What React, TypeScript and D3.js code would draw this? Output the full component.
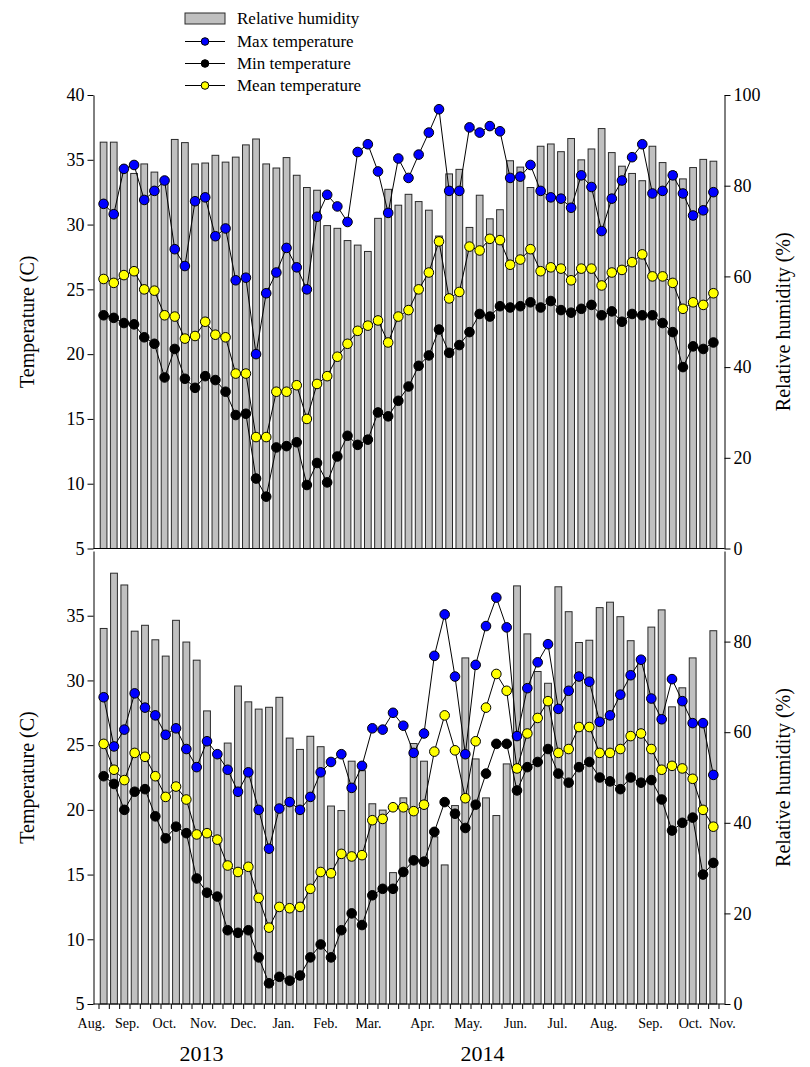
import React, { useEffect, useRef } from "react";
import * as d3 from "d3";

// upper panel, weekly values (61 weeks)
const topHumidity = [89.6, 89.6, 83.4, 82.7, 84.8, 83.0, 81.6, 90.2, 89.5, 84.8, 85.0, 86.7, 85.2, 86.3, 89.0, 90.3, 84.8, 83.9, 86.2, 82.3, 79.6, 79.0, 71.2, 70.6, 67.9, 66.9, 65.5, 72.8, 79.2, 75.7, 78.1, 76.5, 74.6, 68.9, 82.6, 83.6, 70.8, 77.9, 72.7, 74.7, 85.5, 84.1, 79.6, 88.7, 89.2, 87.5, 90.4, 85.7, 88.1, 92.6, 87.3, 84.3, 82.7, 81.1, 88.7, 85.1, 83.1, 81.5, 84.0, 85.8, 85.4];
const topMax = [31.6, 30.8, 34.3, 34.6, 31.9, 32.6, 33.4, 28.1, 26.8, 31.8, 32.1, 29.1, 29.7, 25.7, 25.9, 20.0, 24.7, 26.3, 28.2, 26.7, 25.0, 30.6, 32.3, 31.4, 30.2, 35.6, 36.2, 34.1, 30.9, 35.1, 33.6, 35.4, 37.1, 38.9, 32.6, 32.6, 37.5, 37.1, 37.6, 37.2, 33.6, 33.7, 34.6, 32.6, 32.1, 32.0, 31.3, 33.8, 32.9, 29.5, 32.0, 33.4, 35.2, 36.2, 32.4, 32.6, 33.8, 32.4, 30.7, 31.1, 32.5];
const topMin = [23.0, 22.8, 22.4, 22.3, 21.3, 20.8, 18.2, 20.4, 18.1, 17.4, 18.3, 18.0, 17.1, 15.3, 15.4, 10.4, 9.0, 12.8, 12.9, 13.2, 9.9, 11.6, 10.1, 12.1, 13.7, 13.0, 13.4, 15.5, 15.2, 16.4, 17.5, 19.1, 19.9, 21.9, 20.1, 20.7, 21.7, 23.1, 22.9, 23.7, 23.6, 23.7, 24.0, 23.6, 24.1, 23.4, 23.2, 23.5, 23.8, 23.0, 23.3, 22.5, 23.1, 23.0, 23.0, 22.4, 21.7, 19.0, 20.6, 20.4, 20.9];
const topMean = [25.8, 25.5, 26.1, 26.4, 25.0, 24.9, 23.0, 22.9, 21.2, 21.4, 22.5, 21.5, 21.3, 18.5, 18.5, 13.6, 13.6, 17.1, 17.1, 17.6, 15.0, 17.7, 18.3, 19.8, 20.8, 21.8, 22.2, 22.6, 20.9, 22.9, 23.4, 25.0, 26.3, 28.7, 24.3, 24.8, 28.3, 28.0, 28.9, 28.8, 26.9, 27.3, 28.1, 26.4, 26.7, 26.6, 25.7, 26.6, 26.6, 25.3, 26.3, 26.5, 27.1, 27.7, 26.0, 26.0, 25.5, 23.5, 24.0, 23.8, 24.7];

// lower panel, weekly values (60 weeks)
const botHumidity = [82.9, 95.1, 92.5, 82.3, 83.6, 80.4, 76.8, 84.7, 79.9, 75.9, 64.7, 55.0, 57.6, 70.2, 66.7, 65.1, 65.5, 67.7, 58.7, 56.2, 59.1, 56.8, 43.7, 42.7, 53.6, 51.5, 44.2, 42.8, 29.0, 45.5, 57.5, 53.6, 36.9, 30.7, 43.8, 76.4, 54.1, 45.5, 41.6, 53.0, 92.3, 81.7, 73.4, 70.8, 92.1, 86.6, 79.8, 80.3, 87.5, 88.7, 85.5, 80.2, 76.0, 83.2, 87.0, 65.6, 69.8, 76.4, 62.0, 82.4];
const botMax = [28.7, 24.9, 26.2, 29.0, 27.9, 27.3, 25.8, 26.3, 24.7, 23.3, 25.3, 24.3, 23.1, 21.4, 22.9, 20.0, 17.0, 20.1, 20.6, 20.0, 21.0, 22.9, 23.7, 24.3, 21.7, 23.4, 26.3, 26.2, 27.5, 26.5, 24.4, 25.9, 31.9, 35.1, 30.3, 24.3, 31.2, 34.2, 36.4, 34.1, 25.7, 29.4, 31.4, 32.8, 27.8, 29.2, 30.3, 29.9, 26.8, 27.3, 28.9, 30.4, 31.6, 28.6, 27.0, 30.1, 28.4, 26.7, 26.7, 22.7];
const botMin = [22.6, 22.0, 20.0, 21.4, 21.6, 19.5, 17.8, 18.7, 18.2, 14.7, 13.6, 13.3, 10.7, 10.5, 10.7, 8.6, 6.6, 7.1, 6.8, 7.2, 8.6, 9.6, 8.6, 10.7, 12.0, 11.1, 13.4, 13.9, 13.9, 15.2, 16.1, 16.0, 18.3, 20.6, 19.7, 18.6, 20.4, 22.8, 25.1, 25.1, 21.5, 23.3, 23.7, 24.7, 22.8, 22.1, 23.3, 23.7, 22.5, 22.2, 21.6, 22.5, 22.1, 22.3, 20.8, 18.4, 19.0, 19.4, 15.0, 15.9];
const botMean = [25.1, 23.1, 22.3, 24.4, 24.1, 22.6, 21.0, 21.8, 20.8, 18.1, 18.2, 17.7, 15.7, 15.2, 15.6, 13.2, 10.9, 12.5, 12.4, 12.5, 13.9, 15.2, 15.1, 16.6, 16.4, 16.5, 19.2, 19.3, 20.2, 20.2, 19.9, 20.4, 24.5, 27.3, 24.6, 20.9, 25.3, 27.9, 30.5, 29.2, 23.2, 25.9, 27.1, 28.4, 24.4, 24.7, 26.4, 26.4, 24.4, 24.4, 24.7, 25.7, 25.9, 24.7, 23.1, 23.4, 23.2, 22.4, 20.0, 18.7];

// month labels, placed in week units of the lower panel
const monthLabels = ["Aug.", "Sep.", "Oct.", "Nov.", "Dec.", "Jan.", "Feb.", "Mar.", "Apr.", "May.", "Jun.", "Jul.", "Aug.", "Sep.", "Oct.", "Nov."];
const monthWeeks = [-1.19, 2.29, 5.88, 9.65, 13.52, 17.4, 21.46, 25.62, 30.85, 35.3, 39.85, 43.92, 48.37, 52.92, 56.79, 59.89];
const yearLabels = ["2013", "2014"];
const yearWeeks = [9.46, 36.66];

const tempTicksTop = [5, 10, 15, 20, 25, 30, 35, 40];
const tempTicksBot = [5, 10, 15, 20, 25, 30, 35];
const rhTicksTop = [0, 20, 40, 60, 80, 100];
const rhTicksBot = [0, 20, 40, 60, 80];

const legendNames = ["Relative humidity", "Max temperature", "Min temperature", "Mean temperature"];
const serif = "'Liberation Serif', 'Times New Roman', serif";

export default function App() {
  const ref = useRef<SVGSVGElement>(null);

  useEffect(() => {
    const svg = d3.select(ref.current);
    svg.selectAll("*").remove(); // clear previous render

    const left = 93.5;
    const right = 724.5;
    const barLeft = 98.5;
    const barRight = 718.5;

    const panels = [
      { rh: topHumidity, max: topMax, min: topMin, mean: topMean, top: 95, bottom: 548.5, tTicks: tempTicksTop, rTicks: rhTicksTop },
      { rh: botHumidity, max: botMax, min: botMin, mean: botMean, top: 551, bottom: 1004, tTicks: tempTicksBot, rTicks: rhTicksBot },
    ];

    panels.forEach((p) => {
      const n = p.rh.length;
      const x = d3.scaleBand<number>()
        .domain(d3.range(n))
        .range([barLeft, barRight])
        .paddingInner(0.34)
        .paddingOuter(0.17);
      const cx = (i: number) => (x(i) as number) + x.bandwidth() / 2;

      const yT = d3.scaleLinear().domain([5, 40]).range([p.bottom, p.top]);
      const yR = d3.scaleLinear().domain([0, 100]).range([p.bottom, p.top]);

      const g = svg.append("g");

      // humidity bars
      g.selectAll("rect")
        .data(p.rh)
        .join("rect")
        .attr("x", (d, i) => x(i) as number)
        .attr("width", x.bandwidth())
        .attr("y", (d) => yR(d))
        .attr("height", (d) => p.bottom - yR(d))
        .attr("fill", "#c0c0c0")
        .attr("stroke", "#2a2a2a")
        .attr("stroke-width", 1);

      const line = d3.line<number>()
        .x((d, i) => cx(i))
        .y((d) => yT(d));

      const series = [
        { vals: p.max, fill: "#0000ff" },
        { vals: p.min, fill: "#000000" },
        { vals: p.mean, fill: "#ffff00" },
      ];
      series.forEach((s) => {
        g.append("path")
          .attr("d", line(s.vals))
          .attr("fill", "none")
          .attr("stroke", "#000")
          .attr("stroke-width", 1);
        g.append("g")
          .selectAll("circle")
          .data(s.vals)
          .join("circle")
          .attr("cx", (d, i) => cx(i))
          .attr("cy", (d) => yT(d))
          .attr("r", 4.8)
          .attr("fill", s.fill)
          .attr("stroke", "#000")
          .attr("stroke-width", 1);
      });

      // left temperature axis
      const axL = g.append("g")
        .attr("transform", `translate(${left},0)`)
        .call(d3.axisLeft(yT).tickValues(p.tTicks).tickSize(6).tickSizeOuter(0).tickPadding(3));
      axL.attr("font-size", 18).attr("font-family", serif);

      // right humidity axis
      const axR = g.append("g")
        .attr("transform", `translate(${right},0)`)
        .call(d3.axisRight(yR).tickValues(p.rTicks).tickSize(6).tickSizeOuter(0).tickPadding(3));
      axR.attr("font-size", 18).attr("font-family", serif);

      // bottom edge of the panel
      g.append("line")
        .attr("x1", left).attr("x2", right)
        .attr("y1", p.bottom).attr("y2", p.bottom)
        .attr("stroke", "#000").attr("stroke-width", 1.2);

      const midY = (p.top + p.bottom) / 2;
      g.append("text")
        .attr("transform", `translate(27,${midY}) rotate(-90)`)
        .attr("text-anchor", "middle")
        .attr("dominant-baseline", "central")
        .attr("font-family", serif)
        .attr("font-size", 20)
        .text("Temperature (C)");
      g.append("text")
        .attr("transform", `translate(783,${midY}) rotate(-90)`)
        .attr("text-anchor", "middle")
        .attr("dominant-baseline", "central")
        .attr("font-family", serif)
        .attr("font-size", 20)
        .text("Relative humidity (%)");
    });

    // shared week axis under the lower panel
    const nBot = botHumidity.length;
    const week = d3.scaleLinear().domain([-0.5, nBot - 0.5]).range([barLeft, barRight]);

    const axB = svg.append("g")
      .attr("transform", `translate(0,1004)`)
      .call(d3.axisBottom(week).tickValues(d3.range(nBot + 1).map((i) => i - 0.5)).tickSize(5).tickSizeOuter(0).tickFormat(() => ""));
    axB.select(".domain").remove();

    svg.append("g")
      .selectAll("text")
      .data(monthLabels)
      .join("text")
      .attr("x", (d, i) => week(monthWeeks[i]))
      .attr("y", 1028)
      .attr("text-anchor", "middle")
      .attr("font-family", serif)
      .attr("font-size", 14)
      .text((d) => d);

    svg.append("g")
      .selectAll("text")
      .data(yearLabels)
      .join("text")
      .attr("x", (d, i) => week(yearWeeks[i]))
      .attr("y", 1061)
      .attr("text-anchor", "middle")
      .attr("font-family", serif)
      .attr("font-size", 22)
      .text((d) => d);

    // legend
    const legend = svg.append("g").attr("transform", "translate(185,0)");
    const rows = [18.5, 41.5, 63.5, 85.5];
    const markerFill = [null, "#0000ff", "#000000", "#ffff00"];
    legendNames.forEach((name, i) => {
      const y = rows[i];
      if (i === 0) {
        legend.append("rect")
          .attr("x", 0).attr("y", y - 5.5)
          .attr("width", 40).attr("height", 11)
          .attr("fill", "#c0c0c0").attr("stroke", "#2a2a2a").attr("stroke-width", 1);
      } else {
        legend.append("line")
          .attr("x1", 0).attr("x2", 40).attr("y1", y).attr("y2", y)
          .attr("stroke", "#000").attr("stroke-width", 1);
        legend.append("circle")
          .attr("cx", 20).attr("cy", y).attr("r", 3.8)
          .attr("fill", markerFill[i] as string).attr("stroke", "#000").attr("stroke-width", 1);
      }
      legend.append("text")
        .attr("x", 52).attr("y", y)
        .attr("dominant-baseline", "central")
        .attr("font-family", serif)
        .attr("font-size", 17)
        .text(name);
    });
  }, []);

  return (
    <svg
      ref={ref}
      width={810}
      height={1067}
      style={{ position: "absolute", left: 0, top: 0, background: "#fff" }}
    />
  );
}
